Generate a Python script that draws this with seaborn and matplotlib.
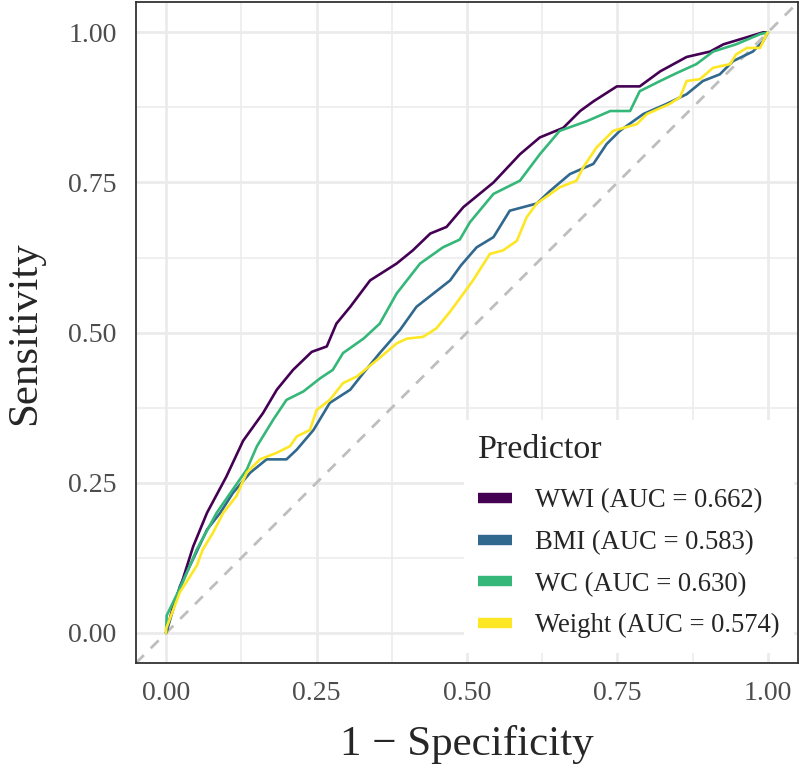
import numpy as np
import pandas as pd
import seaborn as sns
import matplotlib.pyplot as plt
from matplotlib.lines import Line2D
from matplotlib.ticker import MultipleLocator

# ROC points (1 - specificity, sensitivity)
wwi_fpr = [0, 0.012, 0.028, 0.045, 0.068, 0.10, 0.128, 0.161, 0.184, 0.211, 0.242, 0.267, 0.283,
           0.306, 0.339, 0.383, 0.41, 0.439, 0.466, 0.494, 0.544, 0.588, 0.621, 0.66, 0.688, 0.71,
           0.749, 0.787, 0.821, 0.865, 0.904, 0.926, 0.959, 0.992, 1]
wwi_tpr = [0, 0.045, 0.09, 0.144, 0.20, 0.26, 0.32, 0.366, 0.405, 0.438, 0.468, 0.477, 0.515,
           0.543, 0.587, 0.615, 0.637, 0.665, 0.676, 0.709, 0.75, 0.797, 0.825, 0.841, 0.869, 0.885,
           0.91, 0.91, 0.935, 0.959, 0.968, 0.98, 0.99, 1.0, 1]

bmi_fpr = [0, 0.007, 0.023, 0.045, 0.068, 0.09, 0.111, 0.14, 0.167, 0.20, 0.217, 0.245, 0.272,
           0.306, 0.328, 0.355, 0.389, 0.416, 0.444, 0.472, 0.49, 0.516, 0.544, 0.571, 0.616, 0.638,
           0.671, 0.71, 0.732, 0.754, 0.793, 0.832, 0.865, 0.892, 0.92, 0.942, 0.975, 0.992, 1]
bmi_tpr = [0, 0.023, 0.078, 0.123, 0.172, 0.20, 0.233, 0.267, 0.289, 0.289, 0.305, 0.338, 0.383,
           0.405, 0.433, 0.466, 0.505, 0.543, 0.565, 0.587, 0.612, 0.642, 0.659, 0.703, 0.715, 0.736,
           0.764, 0.781, 0.814, 0.836, 0.864, 0.881, 0.897, 0.919, 0.93, 0.952, 0.968, 0.985, 1]

wc_fpr = [0, 0.001, 0.028, 0.051, 0.084, 0.111, 0.134, 0.151, 0.178, 0.20, 0.228, 0.256, 0.277,
          0.294, 0.328, 0.355, 0.383, 0.422, 0.46, 0.488, 0.505, 0.544, 0.588, 0.621, 0.654, 0.699,
          0.738, 0.771, 0.787, 0.821, 0.848, 0.881, 0.909, 0.947, 0.987, 1]
wc_tpr = [0, 0.029, 0.085, 0.139, 0.20, 0.239, 0.272, 0.311, 0.355, 0.388, 0.402, 0.424, 0.438,
          0.466, 0.49, 0.515, 0.565, 0.615, 0.642, 0.655, 0.684, 0.731, 0.753, 0.797, 0.836, 0.852,
          0.869, 0.869, 0.902, 0.919, 0.932, 0.947, 0.968, 0.98, 0.997, 1]

weight_fpr = [0, 0.0, 0.023, 0.034, 0.051, 0.061, 0.078, 0.095, 0.117, 0.134, 0.156, 0.184, 0.206,
              0.217, 0.239, 0.25, 0.272, 0.294, 0.317, 0.35, 0.383, 0.40, 0.427, 0.449, 0.472, 0.494,
              0.51, 0.538, 0.56, 0.583, 0.599, 0.616, 0.654, 0.682, 0.693, 0.715, 0.743, 0.782, 0.799,
              0.837, 0.854, 0.865, 0.887, 0.909, 0.937, 0.947, 0.965, 0.987, 0.998, 1]
weight_tpr = [0, 0.007, 0.068, 0.085, 0.112, 0.139, 0.167, 0.20, 0.228, 0.267, 0.289, 0.30, 0.311,
              0.327, 0.338, 0.371, 0.388, 0.416, 0.427, 0.454, 0.482, 0.49, 0.493, 0.507, 0.535, 0.565,
              0.587, 0.631, 0.637, 0.653, 0.692, 0.715, 0.742, 0.753, 0.775, 0.808, 0.836, 0.847, 0.864,
              0.881, 0.892, 0.919, 0.922, 0.941, 0.947, 0.963, 0.974, 0.974, 0.997, 1]

labels = ["WWI (AUC = 0.662)", "BMI (AUC = 0.583)", "WC (AUC = 0.630)", "Weight (AUC = 0.574)"]
colors = ["#440154", "#31688E", "#35B779", "#FDE725"]

frames = []
for lab, fx, ty in zip(labels, [wwi_fpr, bmi_fpr, wc_fpr, weight_fpr],
                       [wwi_tpr, bmi_tpr, wc_tpr, weight_tpr]):
    frames.append(pd.DataFrame({"fpr": fx, "tpr": ty, "Predictor": lab}))
roc = pd.concat(frames, ignore_index=True)

sns.set_style("white")
plt.rcParams["font.family"] = ["Liberation Serif", "DejaVu Serif"]

fig = plt.figure(figsize=(8, 7.66), dpi=100)
ax = fig.add_axes([0.17, 0.1345, 0.8275, 0.8625])

# chance line
ax.axline((0, 0), slope=1, color="#BEBEBE", lw=2.0, ls=(0, (4, 3.5)), zorder=1)

sns.lineplot(data=roc, x="fpr", y="tpr", hue="Predictor", hue_order=labels,
             palette=colors, sort=False, estimator=None, units="Predictor",
             lw=1.9, ax=ax, legend=False, zorder=3)

ax.set_xlim(-0.05, 1.05)
ax.set_ylim(-0.05, 1.05)
ax.xaxis.set_major_locator(MultipleLocator(0.25))
ax.yaxis.set_major_locator(MultipleLocator(0.25))
ax.xaxis.set_minor_locator(MultipleLocator(0.125))
ax.yaxis.set_minor_locator(MultipleLocator(0.125))
ax.xaxis.set_major_formatter(lambda v, p: f"{v:.2f}")
ax.yaxis.set_major_formatter(lambda v, p: f"{v:.2f}")

ax.grid(which="major", color="#EBEBEB", lw=2.0)
ax.grid(which="minor", color="#EBEBEB", lw=1.1)
ax.set_axisbelow(True)
for s in ax.spines.values():
    s.set_color("#333333")
    s.set_linewidth(1.3)

ax.tick_params(axis="both", which="major", direction="out", length=6, width=1.5,
               color="#333333", labelcolor="#4D4D4D", labelsize=20)
ax.tick_params(axis="x", pad=7)
ax.tick_params(axis="y", pad=8)
ax.tick_params(which="minor", length=0)

ax.set_xlabel("1 − Specificity", fontsize=31, labelpad=14)
ax.set_ylabel("Sensitivity", fontsize=31, labelpad=17)

handles = [Line2D([], [], color=c, lw=7.5, solid_capstyle="butt") for c in colors]
leg = ax.legend(handles, labels, title="Predictor", loc="lower right",
                bbox_to_anchor=(0.994, 0.015), borderaxespad=0, frameon=True, fancybox=False,
                facecolor="white", edgecolor="none", framealpha=1,
                fontsize=19.2, title_fontsize=24.5, handlelength=1.27,
                handletextpad=0.85, labelspacing=0.62, borderpad=0.55, alignment="left")
leg._legend_box.sep += 5
leg.set_zorder(5)

fig.savefig("out.png", dpi=100)
